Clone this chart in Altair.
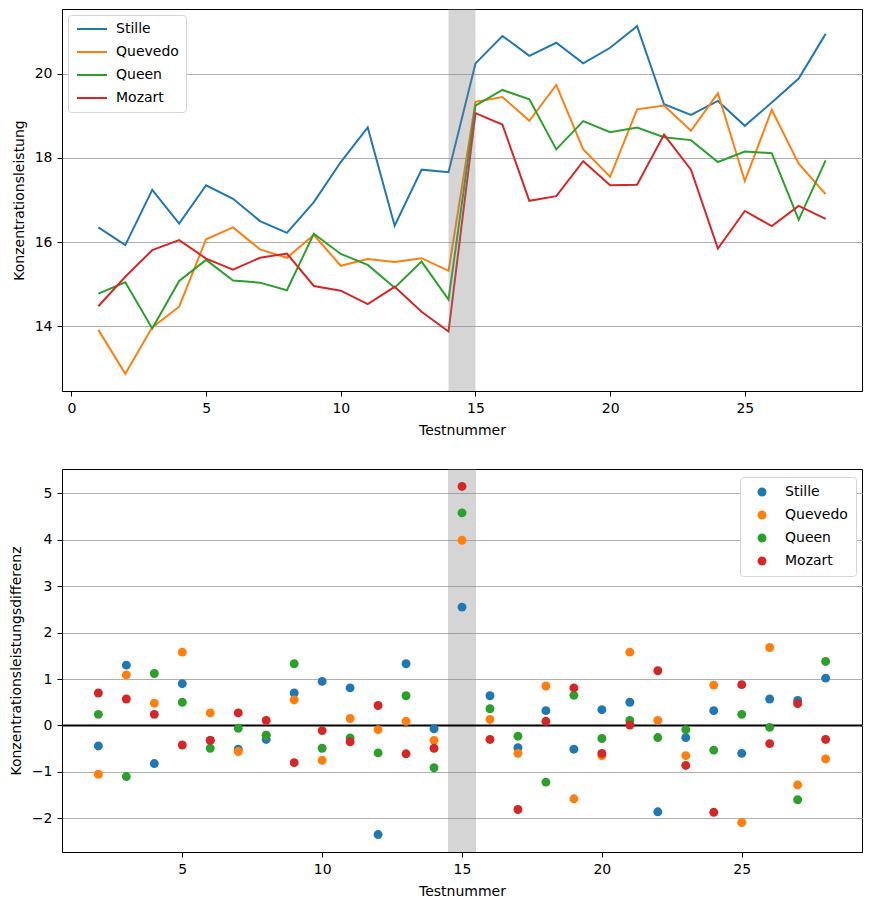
import altair as alt
import pandas as pd

series = ["Stille", "Quevedo", "Queen", "Mozart"]
colors = ["#1f77b4", "#ff7f0e", "#2ca02c", "#d62728"]

tests = list(range(1, 29))
stille = [16.35, 15.93, 17.24, 16.44, 17.35, 17.03, 16.50, 16.22, 16.95, 17.90,
          18.72, 16.39, 17.72, 17.66, 20.24, 20.89, 20.42, 20.73, 20.24, 20.61,
          21.12, 19.27, 19.02, 19.35, 18.76, 19.31, 19.88, 20.94]
quevedo = [13.92, 12.88, 13.98, 14.47, 16.07, 16.35, 15.83, 15.63, 16.17, 15.44,
           15.60, 15.53, 15.62, 15.32, 19.33, 19.44, 18.88, 19.73, 18.20, 17.55,
           19.15, 19.24, 18.64, 19.53, 17.45, 19.14, 17.86, 17.14]
queen = [14.78, 15.05, 13.95, 15.08, 15.58, 15.09, 15.04, 14.86, 16.20, 15.72,
         15.46, 14.92, 15.54, 14.64, 19.24, 19.61, 19.39, 18.20, 18.87, 18.61,
         18.72, 18.49, 18.42, 17.90, 18.15, 18.11, 16.53, 17.94]
mozart = [14.48, 15.18, 15.81, 16.05, 15.61, 15.35, 15.63, 15.73, 14.96, 14.85,
          14.53, 14.94, 14.35, 13.88, 19.06, 18.79, 16.98, 17.09, 17.92, 17.35,
          17.36, 18.55, 17.72, 15.85, 16.74, 16.38, 16.86, 16.55]

diff_tests = list(range(2, 29))
d_stille = [-0.44, 1.30, -0.82, 0.90, -0.32, -0.51, -0.30, 0.70, 0.95, 0.81,
            -2.35, 1.33, -0.07, 2.55, 0.64, -0.48, 0.32, -0.51, 0.34, 0.50,
            -1.86, -0.26, 0.32, -0.60, 0.57, 0.54, 1.02]
d_quevedo = [-1.05, 1.09, 0.48, 1.58, 0.27, -0.56, -0.21, 0.55, -0.75, 0.15,
             -0.09, 0.09, -0.32, 3.99, 0.13, -0.60, 0.85, -1.58, -0.65, 1.58,
             0.11, -0.65, 0.87, -2.09, 1.68, -1.28, -0.72]
d_queen = [0.24, -1.10, 1.12, 0.50, -0.49, -0.06, -0.21, 1.33, -0.49, -0.27,
           -0.59, 0.64, -0.91, 4.58, 0.36, -0.23, -1.22, 0.65, -0.28, 0.11,
           -0.26, -0.09, -0.53, 0.24, -0.04, -1.60, 1.38]
d_mozart = [0.70, 0.57, 0.24, -0.42, -0.32, 0.27, 0.11, -0.80, -0.11, -0.35,
            0.43, -0.61, -0.49, 5.15, -0.30, -1.81, 0.09, 0.81, -0.60, 0.01,
            1.18, -0.86, -1.87, 0.88, -0.39, 0.47, -0.30]

span_top = [14, 15]
span_bottom = [14.5, 15.5]

top_x_ticks = [0, 5, 10, 15, 20, 25]
top_y_ticks = [14, 16, 18, 20]
bottom_x_ticks = [5, 10, 15, 20, 25]
bottom_y_ticks = [-2, -1, 0, 1, 2, 3, 4, 5]

top_df = pd.DataFrame({
    "Testnummer": tests * 4,
    "Wert": stille + quevedo + queen + mozart,
    "Serie": [s for s in series for _ in tests],
    "ord": [i for i in range(4) for _ in tests],
})
bottom_df = pd.DataFrame({
    "Testnummer": diff_tests * 4,
    "Wert": d_stille + d_quevedo + d_queen + d_mozart,
    "Serie": [s for s in series for _ in diff_tests],
    "ord": [i for i in range(4) for _ in diff_tests],
})
span_top_df = pd.DataFrame({"a": [span_top[0]], "b": [span_top[1]]})
span_bottom_df = pd.DataFrame({"a": [span_bottom[0]], "b": [span_bottom[1]]})
zero_df = pd.DataFrame({"y": [0]})

FONT = "DejaVu Sans"
FS = 14

color_scale = alt.Scale(domain=series, range=colors)

# ---------- top panel ----------
tx = alt.X("Testnummer:Q", scale=alt.Scale(domain=[-0.35, 29.35], nice=False, zero=False),
           axis=alt.Axis(values=top_x_ticks, format="d", grid=False, title="Testnummer"))
ty = alt.Y("Wert:Q", scale=alt.Scale(domain=[12.47, 21.53], nice=False, zero=False),
           axis=alt.Axis(values=top_y_ticks, format="d", grid=True, title="Konzentrationsleistung"))

top_lines = alt.Chart(top_df).mark_line(strokeWidth=2).encode(
    x=tx, y=ty,
    color=alt.Color("Serie:N", scale=color_scale,
                    legend=alt.Legend(title=None, orient="none", legendX=6, legendY=6,
                                      symbolType="M-3,0H3", symbolSize=100, symbolStrokeWidth=2,
                                      labelFontSize=FS, labelFont=FONT, labelColor="black",
                                      fillColor="white", strokeColor="#d5d5d5", cornerRadius=3,
                                      padding=7, rowPadding=9, symbolOffset=10, labelOffset=17)),
    order="ord:Q",
)
top_span = alt.Chart(span_top_df).mark_rect(color="#808080", opacity=0.33).encode(
    x=alt.X("a:Q"), x2="b:Q"
)
top = alt.layer(top_lines, top_span).properties(width=800, height=382)

# ---------- bottom panel ----------
bx = alt.X("Testnummer:Q", scale=alt.Scale(domain=[0.7, 29.3], nice=False, zero=False),
           axis=alt.Axis(values=bottom_x_ticks, format="d", grid=False, title="Testnummer"))
by = alt.Y("Wert:Q", scale=alt.Scale(domain=[-2.725, 5.525], nice=False, zero=False),
           axis=alt.Axis(values=bottom_y_ticks, format="d", grid=True,
                         title="Konzentrationsleistungsdifferenz"))

bottom_span = alt.Chart(span_bottom_df).mark_rect(color="#808080", opacity=0.33).encode(
    x=alt.X("a:Q"), x2="b:Q"
)
bottom_zero = alt.Chart(zero_df).mark_rule(color="black", strokeWidth=2).encode(y=alt.Y("y:Q"))
bottom_pts = alt.Chart(bottom_df).mark_circle(size=80, opacity=1).encode(
    x=bx, y=by,
    color=alt.Color("Serie:N", scale=color_scale,
                    legend=alt.Legend(title=None, orient="none", legendX=678, legendY=8,
                                      symbolType="circle", symbolSize=80, symbolOpacity=1,
                                      labelFontSize=FS, labelFont=FONT, labelColor="black",
                                      fillColor="white", strokeColor="#d5d5d5", cornerRadius=3,
                                      padding=8, rowPadding=9, symbolOffset=7, labelOffset=16)),
    order="ord:Q",
)
bottom = alt.layer(bottom_span, bottom_zero, bottom_pts).properties(width=800, height=383)

chart = alt.vconcat(top, bottom, spacing=30).resolve_scale(color="independent").resolve_legend(
    color="independent"
).properties(padding=0, background="white").configure_view(
    stroke="black", strokeWidth=1
).configure_axis(
    labelFont=FONT, titleFont=FONT, labelFontSize=FS, titleFontSize=FS,
    titleFontWeight="normal", labelColor="black", titleColor="black",
    tickColor="black", tickSize=5, domainColor="black",
    gridColor="#b0b0b0", gridWidth=1, labelPadding=5, titlePadding=8,
)

chart.save("out.html", embed_options={"renderer": "svg", "actions": False})
